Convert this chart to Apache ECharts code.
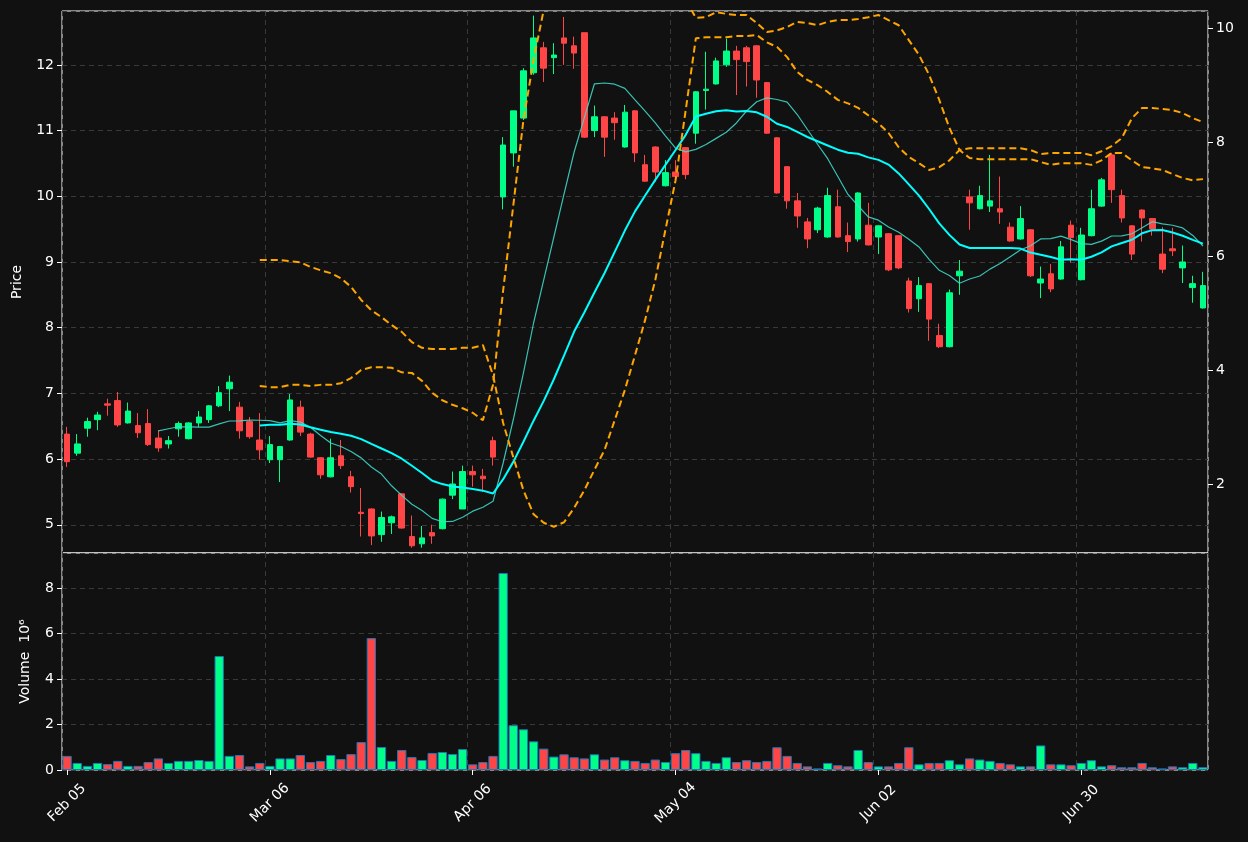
<!DOCTYPE html>
<html>
<head>
<meta charset="utf-8">
<script src="https://cdn.jsdelivr.net/npm/echarts@6/dist/echarts.min.js"></script>
<style>
html,body{margin:0;padding:0;background:#111111;}
#chart{width:1248px;height:842px;}
</style>
</head>
<body>
<div id="chart"></div>
<script>
// tick labels on the x axis (bar index -> date)
var tickIdx = [0, 20, 40, 60, 80, 100];
var tickLabels = ['Feb 05', 'Mar 06', 'Apr 06', 'May 04', 'Jun 02', 'Jun 30'];

var opens = [6.38,6.09,6.47,6.60,6.84,6.89,6.55,6.51,6.54,6.32,6.23,6.46,6.31,6.55,6.60,6.81,7.07,6.79,6.57,6.29,
  5.99,5.99,6.29,6.79,6.38,6.02,5.73,6.05,5.73,5.19,5.24,4.85,5.03,5.47,4.82,4.71,4.88,4.94,5.45,5.24,
  5.81,5.74,6.28,9.99,10.66,11.19,11.88,12.26,12.11,12.41,12.29,12.49,11.00,11.21,11.19,10.75,11.30,10.48,10.75,10.16,
  10.37,10.74,10.96,11.61,11.71,12.00,12.21,12.26,12.29,11.73,10.89,10.45,9.93,9.61,9.49,9.38,9.84,9.40,9.35,9.56,
  9.38,9.43,9.40,8.71,8.44,8.67,7.88,7.71,8.79,9.99,9.81,9.85,9.81,9.53,9.35,9.49,8.68,8.82,8.74,9.56,
  8.73,9.40,9.85,10.63,10.01,9.55,9.79,9.66,9.12,9.20,8.91,8.61,8.30];
var closes = [5.96,6.23,6.57,6.67,6.82,6.52,6.73,6.40,6.22,6.17,6.28,6.54,6.55,6.64,6.81,7.01,7.17,6.43,6.34,6.14,
  6.22,6.19,6.90,6.41,6.03,5.76,6.02,5.90,5.58,5.17,4.83,5.11,5.12,4.95,4.68,4.80,4.83,5.39,5.62,5.81,
  5.76,5.70,6.03,10.78,11.30,11.91,12.41,11.95,12.15,12.33,12.18,10.90,11.21,10.90,11.12,11.28,10.66,10.23,10.37,10.36,
  10.30,10.33,11.59,11.63,12.06,12.21,12.08,12.05,11.77,10.96,10.05,9.93,9.70,9.35,9.82,10.01,9.38,9.31,10.05,9.26,
  9.55,8.88,8.91,8.29,8.64,8.13,7.71,8.53,8.86,9.90,10.01,9.93,9.76,9.32,9.66,8.79,8.74,8.59,9.23,9.37,
  9.41,9.81,10.25,10.10,9.67,9.12,9.67,9.50,8.89,9.17,9.00,8.67,8.64];
var lows = [5.88,6.05,6.34,6.44,6.66,6.49,6.54,6.32,6.20,6.11,6.16,6.34,6.30,6.49,6.55,6.79,6.73,6.31,6.31,5.99,
  5.94,5.65,6.28,6.35,6.02,5.70,5.72,5.85,5.49,4.82,4.69,4.74,4.86,4.94,4.65,4.65,4.71,4.93,5.39,5.24,
  5.58,5.50,5.90,9.80,10.45,11.16,11.85,11.74,11.86,12.00,11.94,10.89,10.90,10.60,10.86,10.74,10.52,10.22,10.22,10.15,
  10.25,10.26,10.80,11.32,11.70,11.97,11.54,11.67,11.50,10.95,10.04,9.81,9.52,9.21,9.44,9.37,9.37,9.15,9.31,9.25,
  9.12,8.86,8.89,8.23,8.24,7.80,7.69,7.70,8.50,9.49,9.80,9.76,9.58,9.31,9.34,8.77,8.45,8.54,8.73,8.99,
  8.72,9.39,9.84,9.90,9.60,9.03,9.31,9.40,8.83,9.09,8.68,8.38,8.29];
var highs = [6.49,6.38,6.63,6.72,6.92,7.02,6.86,6.70,6.76,6.44,6.35,6.57,6.56,6.73,6.82,7.11,7.27,6.87,6.64,6.70,
  6.35,6.20,6.99,6.89,6.40,6.03,6.31,6.29,5.82,5.56,5.25,5.20,5.14,5.48,5.14,4.98,5.00,5.40,5.81,5.90,
  5.90,5.85,6.34,10.90,11.30,11.95,12.75,12.35,12.33,12.73,12.43,12.49,11.38,11.22,11.28,11.39,11.31,10.63,10.76,10.55,
  10.55,10.75,11.60,12.20,12.11,12.40,12.29,12.29,12.30,11.74,10.90,10.46,10.05,9.67,9.84,10.13,10.10,9.60,10.06,9.90,
  9.56,9.44,9.41,8.76,8.77,8.68,8.06,8.58,9.03,10.10,10.16,10.63,10.30,9.60,9.85,9.50,8.93,8.97,9.32,9.63,
  9.52,10.10,10.28,10.66,10.10,9.56,9.80,9.67,9.53,9.52,9.25,8.79,8.85];
// volume, millions
var volumes = [0.62,0.31,0.18,0.31,0.26,0.40,0.18,0.18,0.35,0.51,0.31,0.40,0.40,0.44,0.40,5.01,0.62,0.66,0.16,0.31,
  0.18,0.51,0.51,0.66,0.35,0.40,0.66,0.48,0.70,1.23,5.80,1.01,0.40,0.88,0.57,0.44,0.75,0.79,0.70,0.92,
  0.25,0.35,0.62,8.66,1.97,1.79,1.26,0.94,0.59,0.69,0.56,0.51,0.69,0.46,0.56,0.43,0.40,0.31,0.46,0.35,
  0.74,0.88,0.74,0.40,0.31,0.56,0.35,0.43,0.35,0.40,1.00,0.62,0.31,0.16,0.07,0.31,0.21,0.16,0.88,0.35,
  0.16,0.16,0.31,1.00,0.25,0.31,0.31,0.43,0.25,0.51,0.46,0.40,0.31,0.25,0.16,0.16,1.08,0.25,0.25,0.21,
  0.31,0.43,0.16,0.21,0.12,0.12,0.31,0.12,0.07,0.16,0.12,0.31,0.12];
// orange bands (right axis), start at bar 19
var bandStart = 19;
var bandA = [5.93,5.93,5.93,5.91,5.89,5.81,5.75,5.70,5.61,5.46,
  5.23,5.05,4.93,4.79,4.67,4.49,4.39,4.37,4.37,4.37,
  4.39,4.39,4.44,3.91,3.07,2.47,1.89,1.47,1.32,1.25,
  1.33,1.58,1.89,2.25,2.60,3.12,3.65,4.26,4.88,5.58,
  6.46,7.33,8.56,9.82,9.84,9.84,9.84,9.86,9.86,9.88,
  9.75,9.67,9.49,9.23,9.09,9.00,8.88,8.74,8.68,8.60,
  8.47,8.33,8.16,7.91,7.74,7.63,7.51,7.56,7.68,7.86,
  7.89,7.89,7.89,7.89,7.89,7.89,7.86,7.79,7.81,7.81,
  7.81,7.81,7.77,7.84,7.93,8.07,8.42,8.60,8.60,8.58,
  8.56,8.51,8.42,8.35];
var bandB = [3.72,3.70,3.70,3.74,3.74,3.72,3.74,3.74,3.77,3.86,
  4.00,4.05,4.05,4.04,3.96,3.95,3.81,3.60,3.47,3.39,
  3.33,3.25,3.12,3.74,5.40,6.89,8.39,9.44,10.32,10.8,
  11.2,11.5,11.7,11.8,11.9,11.9,11.8,11.6,11.4,11.1,
  10.9,10.7,10.5,10.18,10.19,10.28,10.25,10.23,10.23,10.09,
  9.93,9.96,10.02,10.11,10.09,10.05,10.11,10.14,10.14,10.16,
  10.19,10.23,10.14,10.05,9.79,9.53,9.18,8.74,8.25,7.86,
  7.72,7.70,7.70,7.70,7.70,7.70,7.70,7.65,7.60,7.63,
  7.63,7.63,7.60,7.68,7.81,7.81,7.68,7.56,7.54,7.51,
  7.44,7.37,7.33,7.35];

var UP = '#00ff88', DOWN = '#ff4545', TXT = '#ffffff';

var cats = closes.map(function (c, i) { return String(i); });
function label(i) { var k = tickIdx.indexOf(Number(i)); return k < 0 ? '' : tickLabels[k]; }
function isTick(i) { return tickIdx.indexOf(i) >= 0; }

function movAvg(n) {
  return closes.map(function (c, i) {
    if (i < n - 1) return null;
    var s = 0;
    for (var j = i - n + 1; j <= i; j++) s += closes[j];
    return +(s / n).toFixed(3);
  });
}
function pad(arr) {
  var out = [];
  for (var i = 0; i < bandStart; i++) out.push(null);
  return out.concat(arr);
}

var kData = opens.map(function (o, i) { return [o, closes[i], lows[i], highs[i]]; });
var volData = volumes.map(function (v, i) {
  return { value: v, itemStyle: { color: closes[i] >= opens[i] ? UP : DOWN } };
});

var grid = { show: true, borderColor: '#ffffff', borderWidth: 1, backgroundColor: '#111111' };
var splitX = { show: true, interval: function (i) { return isTick(i); }, lineStyle: { color: '#3a3a3a', type: [5, 4] } };
var splitY = { show: true, lineStyle: { color: '#3a3a3a', type: [5, 4] } };
var font = { color: TXT, fontSize: 14, fontFamily: 'DejaVu Sans' };

var option = {
  backgroundColor: '#111111',
  animation: false,
  grid: [
    Object.assign({ left: 62, right: 40, top: 11, height: 542 }, grid),
    Object.assign({ left: 62, right: 40, top: 553, height: 217 }, grid)
  ],
  xAxis: [
    { type: 'category', data: cats, gridIndex: 0, boundaryGap: true,
      axisLine: { show: false }, axisTick: { show: false }, axisLabel: { show: false }, splitLine: splitX },
    { type: 'category', data: cats, gridIndex: 1, boundaryGap: true,
      axisLine: { show: false },
      axisTick: { show: true, alignWithLabel: true, interval: function (i) { return isTick(i); }, lineStyle: { color: '#fff' }, length: 5 },
      axisLabel: Object.assign({ interval: function (i) { return isTick(i); }, rotate: 45, formatter: label,
        margin: 33, align: 'center', verticalAlign: 'middle' }, font),
      splitLine: splitX }
  ],
  yAxis: [
    { type: 'value', gridIndex: 0, position: 'left', min: 4.57, max: 12.82, splitNumber: 8,
      name: 'Price', nameLocation: 'middle', nameGap: 38, nameTextStyle: font,
      axisLine: { show: false }, axisTick: { show: true, lineStyle: { color: '#fff' } },
      axisLabel: Object.assign({ showMinLabel: false, showMaxLabel: false }, font), splitLine: splitY },
    { type: 'value', gridIndex: 0, position: 'right', min: 0.79, max: 10.3, splitNumber: 5,
      axisLine: { show: false }, axisTick: { show: true, lineStyle: { color: '#fff' } },
      axisLabel: Object.assign({ showMinLabel: false, showMaxLabel: false }, font), splitLine: { show: false } },
    { type: 'value', gridIndex: 1, min: 0, max: 9.54, splitNumber: 5,
      name: 'Volume  10\u2076', nameLocation: 'middle', nameGap: 30, nameTextStyle: font,
      axisLine: { show: false }, axisTick: { show: true, lineStyle: { color: '#fff' } },
      axisLabel: Object.assign({ showMaxLabel: false }, font), splitLine: splitY }
  ],
  series: [
    { type: 'candlestick', xAxisIndex: 0, yAxisIndex: 0, data: kData, barWidth: '60%',
      itemStyle: { color: UP, color0: DOWN, borderColor: UP, borderColor0: DOWN, borderWidth: 1 } },
    { type: 'line', xAxisIndex: 0, yAxisIndex: 0, data: movAvg(10), symbol: 'none',
      lineStyle: { color: '#40e0d0', width: 1.2, opacity: 0.85 } },
    { type: 'line', xAxisIndex: 0, yAxisIndex: 0, data: movAvg(20), symbol: 'none',
      lineStyle: { color: '#00ffff', width: 2 } },
    { type: 'line', xAxisIndex: 0, yAxisIndex: 1, data: pad(bandA), symbol: 'none',
      lineStyle: { color: '#ffa500', width: 2, type: [7, 4] } },
    { type: 'line', xAxisIndex: 0, yAxisIndex: 1, data: pad(bandB), symbol: 'none',
      lineStyle: { color: '#ffa500', width: 2, type: [7, 4] } },
    { type: 'bar', xAxisIndex: 1, yAxisIndex: 2, data: volData, barCategoryGap: '8%',
      itemStyle: { borderColor: '#1f77b4', borderWidth: 1 } }
  ]
};

var chart = echarts.init(document.getElementById('chart'));
chart.setOption(option);
</script>
</body>
</html>
